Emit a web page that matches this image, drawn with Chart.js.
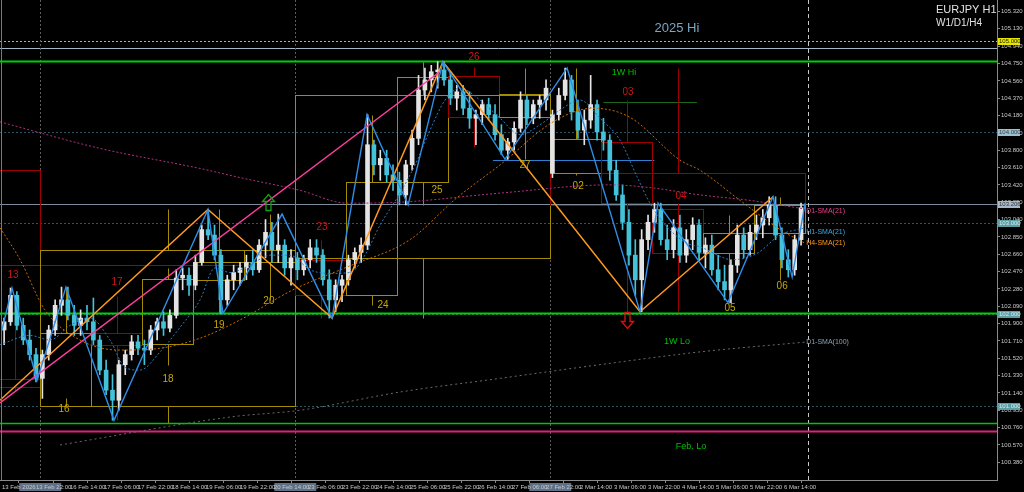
<!DOCTYPE html>
<html>
<head>
<meta charset="utf-8">
<script src="https://cdn.jsdelivr.net/npm/chart.js@4.4.1/dist/chart.umd.min.js"></script>
<style>
  html, body { margin: 0; padding: 0; background: #000; }
  canvas { display: block; }
</style>
</head>
<body>
<canvas id="chart" width="1024" height="492"></canvas>
<script>
// x = H1 bar index (0 = 13 Feb 06:00), y = price
const timeTicks = [0, 16, 32, 48, 64, 80, 96, 112, 128, 144, 160, 176, 192, 208, 224, 240, 256, 272, 288, 304, 320, 336, 352, 368];
const timeLabels = ['13 Feb 2026', '13 Feb 22:00', '16 Feb 14:00', '17 Feb 06:00', '17 Feb 22:00', '18 Feb 14:00', '19 Feb 06:00', '19 Feb 22:00',
  '20 Feb 14:00', '23 Feb 06:00', '23 Feb 22:00', '24 Feb 14:00', '25 Feb 06:00', '25 Feb 22:00', '26 Feb 14:00', '27 Feb 06:00',
  '27 Feb 22:00', '2 Mar 14:00', '3 Mar 06:00', '3 Mar 22:00', '4 Mar 14:00', '5 Mar 06:00', '5 Mar 22:00', '6 Mar 14:00'];
const priceTicks = [105.32, 105.13, 104.94, 104.75, 104.56, 104.37, 104.18, 103.99, 103.80, 103.61, 103.42, 103.23, 103.04,
  102.85, 102.66, 102.47, 102.28, 102.09, 101.90, 101.71, 101.52, 101.33, 101.14, 100.95, 100.76, 100.57, 100.38];
const weekStarts = [18, 138, 258];
const chartEnd = 379.3;

// candles, three H1 bars each
const candleStep = 3;
const candleOpen = [101.83,101.92,102.21,101.88,101.72,101.56,101.30,101.56,101.83,102.10,102.16,101.99,101.88,101.96,101.92,101.72,
  101.39,101.17,101.06,101.45,101.56,101.70,101.63,101.61,101.83,101.92,101.85,101.99,102.40,102.43,102.32,102.57,
  102.93,102.87,102.65,102.16,102.38,102.46,102.51,102.57,102.49,102.76,102.90,102.71,102.76,102.51,102.62,102.49,
  102.60,102.73,102.65,102.38,102.16,102.32,102.38,102.60,102.68,102.76,103.86,103.64,103.71,103.53,103.47,103.31,
  103.64,103.93,104.46,104.57,104.66,104.68,104.57,104.37,104.44,104.26,104.15,104.19,104.30,104.19,103.97,103.80,
  103.89,104.04,104.35,104.15,104.30,104.35,103.55,104.19,104.40,104.57,104.22,104.02,104.13,104.30,104.00,103.91,
  103.58,103.31,103.01,102.65,102.38,102.82,103.01,103.15,102.82,102.71,102.95,102.65,102.82,102.98,102.68,102.76,
  102.49,102.36,102.27,102.54,102.87,102.71,102.90,102.98,103.06,103.20,102.87,102.60,102.49,102.82];
const candleHigh = [101.96,102.29,102.25,101.96,101.83,101.63,101.61,101.88,102.16,102.30,102.30,102.10,102.05,102.10,102.18,101.77,
  101.50,101.34,101.50,101.61,101.77,101.77,101.72,101.88,101.96,102.03,102.05,102.49,102.51,102.51,102.65,102.98,
  103.15,102.98,102.71,102.43,102.54,102.57,102.65,102.71,102.82,103.04,103.01,103.10,102.82,102.71,102.68,102.65,
  102.82,102.82,102.71,102.49,102.38,102.43,102.65,102.73,102.84,104.19,103.91,103.80,103.80,103.64,103.56,103.69,
  104.02,104.62,104.70,104.73,104.77,104.77,104.66,104.51,104.51,104.44,104.24,104.35,104.37,104.30,104.08,103.93,
  104.11,104.44,104.40,104.35,104.40,104.57,104.24,104.48,104.70,104.62,104.35,104.24,104.62,104.35,104.15,103.97,
  103.69,103.42,103.15,102.82,102.93,103.09,103.22,103.22,102.98,103.04,103.09,102.93,103.06,103.04,102.84,102.87,
  102.65,102.54,102.60,102.98,102.95,102.98,103.09,103.15,103.29,103.29,102.95,102.71,102.87,103.22];
const candleLow = [101.67,101.88,101.83,101.67,101.50,101.26,101.08,101.50,101.77,101.99,101.94,101.77,101.77,101.83,101.67,101.34,
  101.12,100.84,100.95,101.34,101.50,101.56,101.45,101.56,101.72,101.77,101.81,101.96,102.27,102.21,102.27,102.54,
  102.82,102.60,102.01,102.10,102.27,102.32,102.38,102.43,102.46,102.62,102.57,102.57,102.43,102.32,102.38,102.43,
  102.51,102.57,102.32,101.96,102.03,102.14,102.32,102.51,102.57,102.71,103.53,103.47,103.45,103.36,103.20,103.20,
  103.58,103.86,104.35,104.44,104.48,104.51,104.30,104.24,104.19,104.04,103.86,104.08,104.13,103.91,103.75,103.70,
  103.80,104.00,104.08,104.09,104.15,104.24,103.50,104.13,104.35,104.13,103.93,103.86,104.04,103.91,103.80,103.47,
  103.25,102.93,102.54,102.21,102.03,102.71,102.90,102.76,102.60,102.62,102.57,102.57,102.71,102.60,102.51,102.43,
  102.27,102.16,102.13,102.46,102.62,102.65,102.82,102.84,102.98,102.82,102.51,102.41,102.43,102.76];
const candleClose = [101.92,102.21,101.88,101.72,101.56,101.30,101.56,101.83,102.10,102.16,101.99,101.88,101.96,101.92,101.72,101.39,
  101.17,101.06,101.45,101.56,101.70,101.63,101.61,101.83,101.92,101.85,101.99,102.40,102.43,102.32,102.57,102.93,
  102.87,102.65,102.16,102.38,102.46,102.51,102.57,102.49,102.76,102.90,102.71,102.76,102.51,102.62,102.49,102.60,
  102.73,102.65,102.38,102.16,102.32,102.38,102.60,102.68,102.76,103.86,103.64,103.71,103.53,103.47,103.31,103.64,
  103.93,104.46,104.57,104.66,104.68,104.57,104.37,104.44,104.26,104.15,104.19,104.30,104.19,103.97,103.80,103.89,
  104.04,104.35,104.15,104.30,104.35,104.48,104.19,104.40,104.57,104.22,104.02,104.13,104.30,104.00,103.91,103.58,
  103.31,103.01,102.65,102.38,102.82,103.01,103.15,102.82,102.71,102.95,102.65,102.82,102.98,102.68,102.76,102.49,
  102.36,102.27,102.54,102.87,102.71,102.90,102.98,103.06,103.20,102.87,102.60,102.49,102.82,103.17];

// swing lines
const zigzagIdx = [0, 4.7, 16.5, 30.1, 52.7, 96.9, 104, 131.8, 155.3, 171.8, 191.1, 207.5, 236.7, 265.9, 300.2, 308.7, 341.6, 362.8, 371.8, 377.9];
const zigzagPrice = [101.83, 102.29, 101.28, 102.30, 100.84, 103.15, 102.01, 103.10, 101.96, 104.19, 103.20, 104.77, 103.70, 104.70, 102.03, 103.22, 102.13, 103.29, 102.41, 103.22];
const swingIdx = [-0.94, 96.9, 155.3, 207.5, 300.2, 362.8];
const swingPrice = [101.06, 103.15, 101.96, 104.77, 102.03, 103.29];
const trendIdx = [-0.94, 206];
const trendPrice = [101.03, 104.66];

// moving averages
const h1SmaIdx = [-0.9, 13.2, 22.6, 32, 41.4, 50.8, 57.9, 64.9, 74.4, 83.8, 93.2, 100.2, 107.3, 116.7, 126.1, 135.5, 144.9, 154.4, 163.8, 170.8,
  177.9, 187.3, 194.4, 201.4, 208.5, 215.5, 224.9, 234.4, 243.8, 253.2, 262.6, 272, 281.4, 290.8, 298.8, 304.9, 312.9, 322.4, 328.5, 344, 355.3, 366.1, 377.9];
const h1SmaPrice = [101.67, 101.77, 101.72, 101.88, 101.96, 101.72, 101.42, 101.39, 101.59, 101.86, 102.16, 102.51, 102.46, 102.54, 102.65, 102.65, 102.49, 102.45, 102.46, 102.65,
  102.98, 103.33, 103.64, 104.02, 104.35, 104.48, 104.35, 104.15, 103.97, 104.08, 104.24, 104.35, 104.15, 103.91, 103.51, 103.22, 102.96, 102.78, 102.74, 102.60, 102.67, 102.87, 102.95];
const h4SmaIdx = [-0.9, 8.5, 20.2, 36.7, 55.5, 74.4, 93.2, 112, 136.9, 162.4, 192, 214.1, 234.4, 259.3, 278.1, 295.5, 319.1, 328.5, 347.3, 366.1, 377.9];
const h4SmaPrice = [102.95, 102.60, 102.05, 101.72, 101.61, 101.63, 101.74, 101.94, 102.27, 102.52, 102.82, 103.28, 103.64, 104.11, 104.26, 104.16, 103.69, 103.58, 103.25, 102.93, 102.78];
const d1SmaIdx = [-0.9, 46.1, 93.2, 112, 140.2, 162.4, 187.3, 234.4, 286.1, 305, 328.5, 352, 379.3];
const d1SmaPrice = [104.11, 103.82, 103.60, 103.50, 103.36, 103.22, 103.23, 103.33, 103.42, 103.39, 103.31, 103.25, 103.15];
const d1Sma100Idx = [27.3, 108.7, 140.2, 187.3, 234.4, 281.4, 328.5, 379.3];
const d1Sma100Price = [100.57, 100.88, 100.95, 101.15, 101.30, 101.45, 101.59, 101.70];

// higher timeframe candles (weeks and days): start, end, open, close, wick
const htfFrom = [-102, -6, 18, 18, 42, 66, 90, 114, 138, 138, 162, 186, 210, 234, 258, 258, 282, 306, 330, 354];
const htfTo = [18, 18, 138, 42, 66, 90, 114, 138, 258, 162, 186, 210, 234, 258, 378, 282, 306, 330, 354, 378];
const htfOpen = [103.58, 101.29, 101.00, 101.00, 101.80, 101.68, 102.38, 102.57, 102.62, 102.60, 102.21, 103.45, 104.61, 104.16, 103.55, 103.55, 103.89, 103.16, 102.67, 102.89];
const htfClose = [101.20, 101.20, 102.71, 101.80, 101.67, 102.39, 102.57, 102.71, 104.40, 102.21, 103.45, 104.60, 104.16, 104.42, 103.20, 103.92, 103.22, 102.67, 102.89, 103.20];
const htfHigh = [null, 102.19, 103.16, 102.30, 102.20, 102.51, 103.16, 103.10, 104.77, 102.82, 104.19, 104.77, 104.71, 104.70, 104.70, 104.70, 104.35, 103.22, 103.09, 103.29];
const htfLow = [null, 101.17, 100.81, 101.08, 100.84, 101.45, 102.00, 102.16, 101.96, 101.96, 102.10, 103.20, 103.83, 103.70, 102.03, 103.53, 102.03, 102.16, 102.13, 102.38];

const dayText = ['13', '16', '17', '18', '19', '20', '23', '24', '25', '26', '27', '02', '03', '04', '05', '06'];
const dayTextIdx = [5.2, 29.2, 54.1, 78.1, 102.1, 125.6, 150.6, 179.3, 204.7, 222.1, 246.1, 271.1, 294.6, 319.5, 342.6, 367.1];
const dayTextPrice = [102.43, 100.96, 102.35, 101.29, 101.88, 102.14, 102.96, 102.10, 103.36, 104.82, 103.64, 103.41, 104.44, 103.29, 102.07, 102.31];
const dayBear = [true, false, true, false, false, false, true, false, false, true, false, false, true, true, false, false];

// swing arrows: up at 20 Feb, down at the 3 Mar low
const arrowUpIdx = 125.2, arrowUpPrice = 103.23;
const arrowDownIdx = 294.1, arrowDownPrice = 101.94;

// levels
const roundLevels = [105.00, 104.00, 103.00, 102.00, 101.00];
const yearHigh = 104.915;
const weekHigh = 104.783;
const weekLow = 102.02;
const febLow = 100.81;
const febLowPink = 100.723;
const lastPrice = 103.206;
const axisTags = [105.000, 104.000, 103.206, 103.000, 102.000, 101.000];

const bullColor = '#e4e4e4';
const bearColor = '#44c2da';
const oliveColor = '#a48c00';
const redColor = '#9c0000';

const candleX = candleOpen.map((_, k) => k * candleStep + 1);
const candleCol = candleOpen.map((o, k) => candleClose[k] >= o ? bullColor : bearColor);

function pts(xs, ys) {
  return xs.map((x, i) => ({ x: x, y: ys[i] }));
}

function lineSet(xs, ys, color, width, dash, order, smooth) {
  return {
    type: 'line',
    data: pts(xs, ys),
    borderColor: color,
    borderWidth: width,
    borderDash: dash,
    pointRadius: 0,
    fill: false,
    tension: smooth ? 0.4 : 0,
    cubicInterpolationMode: smooth ? 'monotone' : 'default',
    order: order
  };
}

// hollow block arrow, up = true points up
function drawArrow(ctx, cx, cy, up, color) {
  const shape = [[0, -8], [6, -1], [2.5, -1], [2.5, 8], [-2.5, 8], [-2.5, -1], [-6, -1]];
  const s = up ? 1 : -1;
  ctx.beginPath();
  shape.forEach((p, i) => {
    const x = cx + p[0], y = cy + s * p[1];
    if (i === 0) ctx.moveTo(x, y); else ctx.lineTo(x, y);
  });
  ctx.closePath();
  ctx.strokeStyle = color;
  ctx.lineWidth = 1.3;
  ctx.setLineDash([]);
  ctx.stroke();
}

const overlayPlugin = {
  id: 'mtOverlays',
  beforeDraw(chart) {
    const { ctx, width, height } = chart;
    const xs = chart.scales.x;
    ctx.save();
    ctx.fillStyle = '#000';
    ctx.fillRect(0, 0, width, height);
    // time tags of the period separators
    ctx.fillStyle = 'rgba(104,124,150,0.9)';
    weekStarts.forEach(i => {
      const x = xs.getPixelForValue(i);
      ctx.fillRect(x - 21, chart.chartArea.bottom + 3, 42, 8);
    });
    ctx.restore();
  },
  beforeDatasetsDraw(chart) {
    const { ctx, chartArea } = chart;
    const xs = chart.scales.x, ys = chart.scales.y;
    const px = v => xs.getPixelForValue(v);
    const py = v => Math.round(ys.getPixelForValue(v)) + 0.5;
    const L = chartArea.left, R = chartArea.right;

    ctx.save();
    ctx.beginPath();
    ctx.rect(L, chartArea.top, R - L, chartArea.bottom - chartArea.top);
    ctx.clip();

    function seg(x0, y0, x1, y1, color, w, dash) {
      ctx.beginPath();
      ctx.strokeStyle = color;
      ctx.lineWidth = w;
      ctx.setLineDash(dash || []);
      ctx.moveTo(x0, y0);
      ctx.lineTo(x1, y1);
      ctx.stroke();
    }

    // round number levels
    roundLevels.forEach(p => {
      seg(L, py(p), R, py(p), p === 105 ? '#c4c400' : '#2e5464', 1, [2, 2]);
    });
    seg(L, py(yearHigh), R, py(yearHigh), '#a4b8c8', 1);
    seg(L, py(lastPrice), R, py(lastPrice), '#7d8c9c', 1);
    seg(L, py(102.54), px(113), py(102.54), '#0b4d0b', 1);
    seg(px(283), py(104.33), px(327), py(104.33), '#1b6a1b', 1);
    seg(px(231), py(103.69), px(307), py(103.69), '#2f7fd0', 1);

    // separators
    weekStarts.forEach(i => {
      const x = Math.round(px(i)) + 0.5;
      seg(x, chartArea.top, x, chartArea.bottom, '#5c5c5c', 1, [2, 2]);
    });
    const xe = Math.round(px(chartEnd)) + 0.5;
    seg(xe, chartArea.top, xe, chartArea.bottom, '#c8c8c8', 1, [4, 3]);

    // higher timeframe candles
    htfFrom.forEach((f, k) => {
      const col = htfClose[k] >= htfOpen[k] ? oliveColor : redColor;
      const x0 = Math.round(px(f)) + 0.5, x1 = Math.round(px(htfTo[k])) + 0.5;
      const y0 = py(htfOpen[k]), y1 = py(htfClose[k]);
      ctx.setLineDash([]);
      ctx.strokeStyle = col;
      ctx.lineWidth = 1;
      ctx.strokeRect(x0, Math.min(y0, y1), x1 - x0, Math.abs(y1 - y0));
      if (htfHigh[k] !== null) {
        const xm = Math.round(px((f + htfTo[k]) / 2)) + 0.5;
        seg(xm, py(htfHigh[k]), xm, Math.min(y0, y1), col, 1);
        seg(xm, Math.max(y0, y1), xm, py(htfLow[k]), col, 1);
      }
    });

    // strong levels
    seg(L, py(weekHigh), R, py(weekHigh), '#00d000', 2);
    seg(L, py(weekLow), R, py(weekLow), '#00d000', 2);
    seg(L, py(febLow), R, py(febLow), '#00c400', 1.5);
    seg(L, py(febLowPink), R, py(febLowPink), '#e0207f', 2);
    ctx.restore();
  },
  afterDatasetsDraw(chart) {
    const { ctx, chartArea } = chart;
    const xs = chart.scales.x, ys = chart.scales.y;
    const px = v => xs.getPixelForValue(v);
    const py = v => ys.getPixelForValue(v);
    ctx.save();
    ctx.textBaseline = 'middle';
    ctx.textAlign = 'center';

    ctx.font = '10px "Liberation Sans", Arial, sans-serif';
    dayText.forEach((t, k) => {
      ctx.fillStyle = dayBear[k] ? '#d01414' : '#c8a800';
      ctx.fillText(t, px(dayTextIdx[k]), py(dayTextPrice[k]));
    });

    ctx.font = '13px "Liberation Sans", Arial, sans-serif';
    ctx.fillStyle = '#7fa4bf';
    ctx.fillText('2025 Hi', px(317.6), py(105.14));

    ctx.font = '9px "Liberation Sans", Arial, sans-serif';
    ctx.fillStyle = '#00c000';
    ctx.fillText('1W Hi', px(292.7), py(104.65));
    ctx.fillText('1W Lo', px(317.6), py(101.70));
    ctx.fillText('Feb. Lo', px(324.2), py(100.55));

    ctx.font = '7px "Liberation Sans", Arial, sans-serif';
    ctx.textAlign = 'left';
    const lx = px(378.4);
    ctx.fillStyle = '#e8408a';
    ctx.fillText('D1-SMA(21)', lx, py(103.13));
    ctx.fillStyle = '#3aa8e0';
    ctx.fillText('H1-SMA(21)', lx, py(102.90));
    ctx.fillStyle = '#ff9a1f';
    ctx.fillText('H4-SMA(21)', lx, py(102.78));
    ctx.fillStyle = '#8aa0b0';
    ctx.fillText('D1-SMA(100)', lx, py(101.70));

    drawArrow(ctx, Math.round(px(arrowUpIdx)) + 0.5, Math.round(py(arrowUpPrice)) + 0.5, true, '#14a014');
    drawArrow(ctx, Math.round(px(arrowDownIdx)) + 0.5, Math.round(py(arrowDownPrice)) + 0.5, false, '#e01010');

    // symbol caption
    ctx.textAlign = 'left';
    ctx.textBaseline = 'top';
    ctx.fillStyle = '#e2e2e2';
    ctx.font = '11px "Liberation Sans", Arial, sans-serif';
    ctx.fillText('EURJPY H1', chartArea.right - 61, 4);
    ctx.font = '10px "Liberation Sans", Arial, sans-serif';
    ctx.fillText('W1/D1/H4', chartArea.right - 61, 18);

    // left frame
    ctx.strokeStyle = '#7a7a7a';
    ctx.lineWidth = 1;
    ctx.beginPath();
    ctx.moveTo(chartArea.left + 1.5, chartArea.top);
    ctx.lineTo(chartArea.left + 1.5, chartArea.bottom);
    ctx.stroke();
    ctx.restore();
  },
  afterDraw(chart) {
    const { ctx, chartArea } = chart;
    const ys = chart.scales.y;
    ctx.save();
    ctx.font = '6px "Liberation Sans", Arial, sans-serif';
    ctx.textBaseline = 'middle';
    ctx.textAlign = 'left';
    axisTags.forEach(p => {
      const y = Math.round(ys.getPixelForValue(p));
      let bg = '#5a9ea6', fg = '#d8e8ec';
      if (p === 105) { bg = '#e6e600'; fg = '#202000'; }
      else if (p === 104) { bg = '#9cc0d0'; fg = '#304048'; }
      else if (p === lastPrice) { bg = '#a8b8c8'; fg = '#303840'; }
      ctx.fillStyle = bg;
      ctx.fillRect(chartArea.right + 1, y - 3, 22, 7);
      ctx.fillStyle = fg;
      ctx.fillText(p.toFixed(3), chartArea.right + 2, y + 0.5);
    });
    ctx.restore();
  }
};

const ctx = document.getElementById('chart').getContext('2d');
new Chart(ctx, {
  type: 'bar',
  data: {
    datasets: [
      lineSet(zigzagIdx, zigzagPrice, '#2f8fe8', 1.4, [], 1, false),
      lineSet(trendIdx, trendPrice, '#ff3fa0', 1.5, [], 2, false),
      lineSet(swingIdx, swingPrice, '#ff9a1f', 1.5, [], 3, false),
      lineSet(h1SmaIdx, h1SmaPrice, '#2a7cc0', 1, [2, 2], 5, true),
      lineSet(h4SmaIdx, h4SmaPrice, '#c86a00', 1, [2, 2], 5, true),
      lineSet(d1SmaIdx, d1SmaPrice, '#b2307c', 1, [2, 2], 5, true),
      lineSet(d1Sma100Idx, d1Sma100Price, '#6a6a6a', 1, [2, 3], 5, true),
      {
        type: 'bar',
        data: candleX.map((x, k) => ({ x: x, y: [candleOpen[k], candleClose[k]] })),
        backgroundColor: candleCol,
        barThickness: 4,
        grouped: false,
        borderWidth: 0,
        order: 8
      },
      {
        type: 'bar',
        data: candleX.map((x, k) => ({ x: x, y: [candleLow[k], candleHigh[k]] })),
        backgroundColor: candleCol,
        barThickness: 1,
        grouped: false,
        borderWidth: 0,
        order: 9
      }
    ]
  },
  options: {
    responsive: false,
    animation: false,
    devicePixelRatio: 1,
    events: [],
    layout: { padding: 0 },
    plugins: {
      legend: { display: false },
      tooltip: { enabled: false }
    },
    scales: {
      x: {
        type: 'linear',
        min: -0.94,
        max: 468.2,
        offset: false,
        afterBuildTicks: axis => { axis.ticks = timeTicks.map(v => ({ value: v })); },
        afterFit: axis => { axis.height = 12; axis.paddingLeft = 0; axis.paddingRight = 0; },
        ticks: {
          autoSkip: false,
          maxRotation: 0,
          align: 'start',
          padding: 1,
          color: '#c8c8c8',
          font: { family: 'Liberation Sans', size: 6 },
          callback: v => {
            const k = timeTicks.indexOf(v);
            return k >= 0 ? timeLabels[k] : '';
          }
        },
        grid: { drawOnChartArea: false, color: '#8a8a8a', tickLength: 3 },
        border: { color: '#8a8a8a' }
      },
      y: {
        position: 'right',
        min: 100.186,
        max: 105.446,
        afterBuildTicks: axis => { axis.ticks = priceTicks.map(v => ({ value: v })); },
        afterFit: axis => { axis.width = 27; axis.paddingTop = 0; axis.paddingBottom = 0; },
        ticks: {
          padding: 1,
          color: '#c8c8c8',
          font: { family: 'Liberation Sans', size: 6 },
          callback: v => v.toFixed(3)
        },
        grid: { drawOnChartArea: false, color: '#8a8a8a', tickLength: 3 },
        border: { color: '#8a8a8a' }
      }
    }
  },
  plugins: [overlayPlugin]
});
</script>
</body>
</html>
